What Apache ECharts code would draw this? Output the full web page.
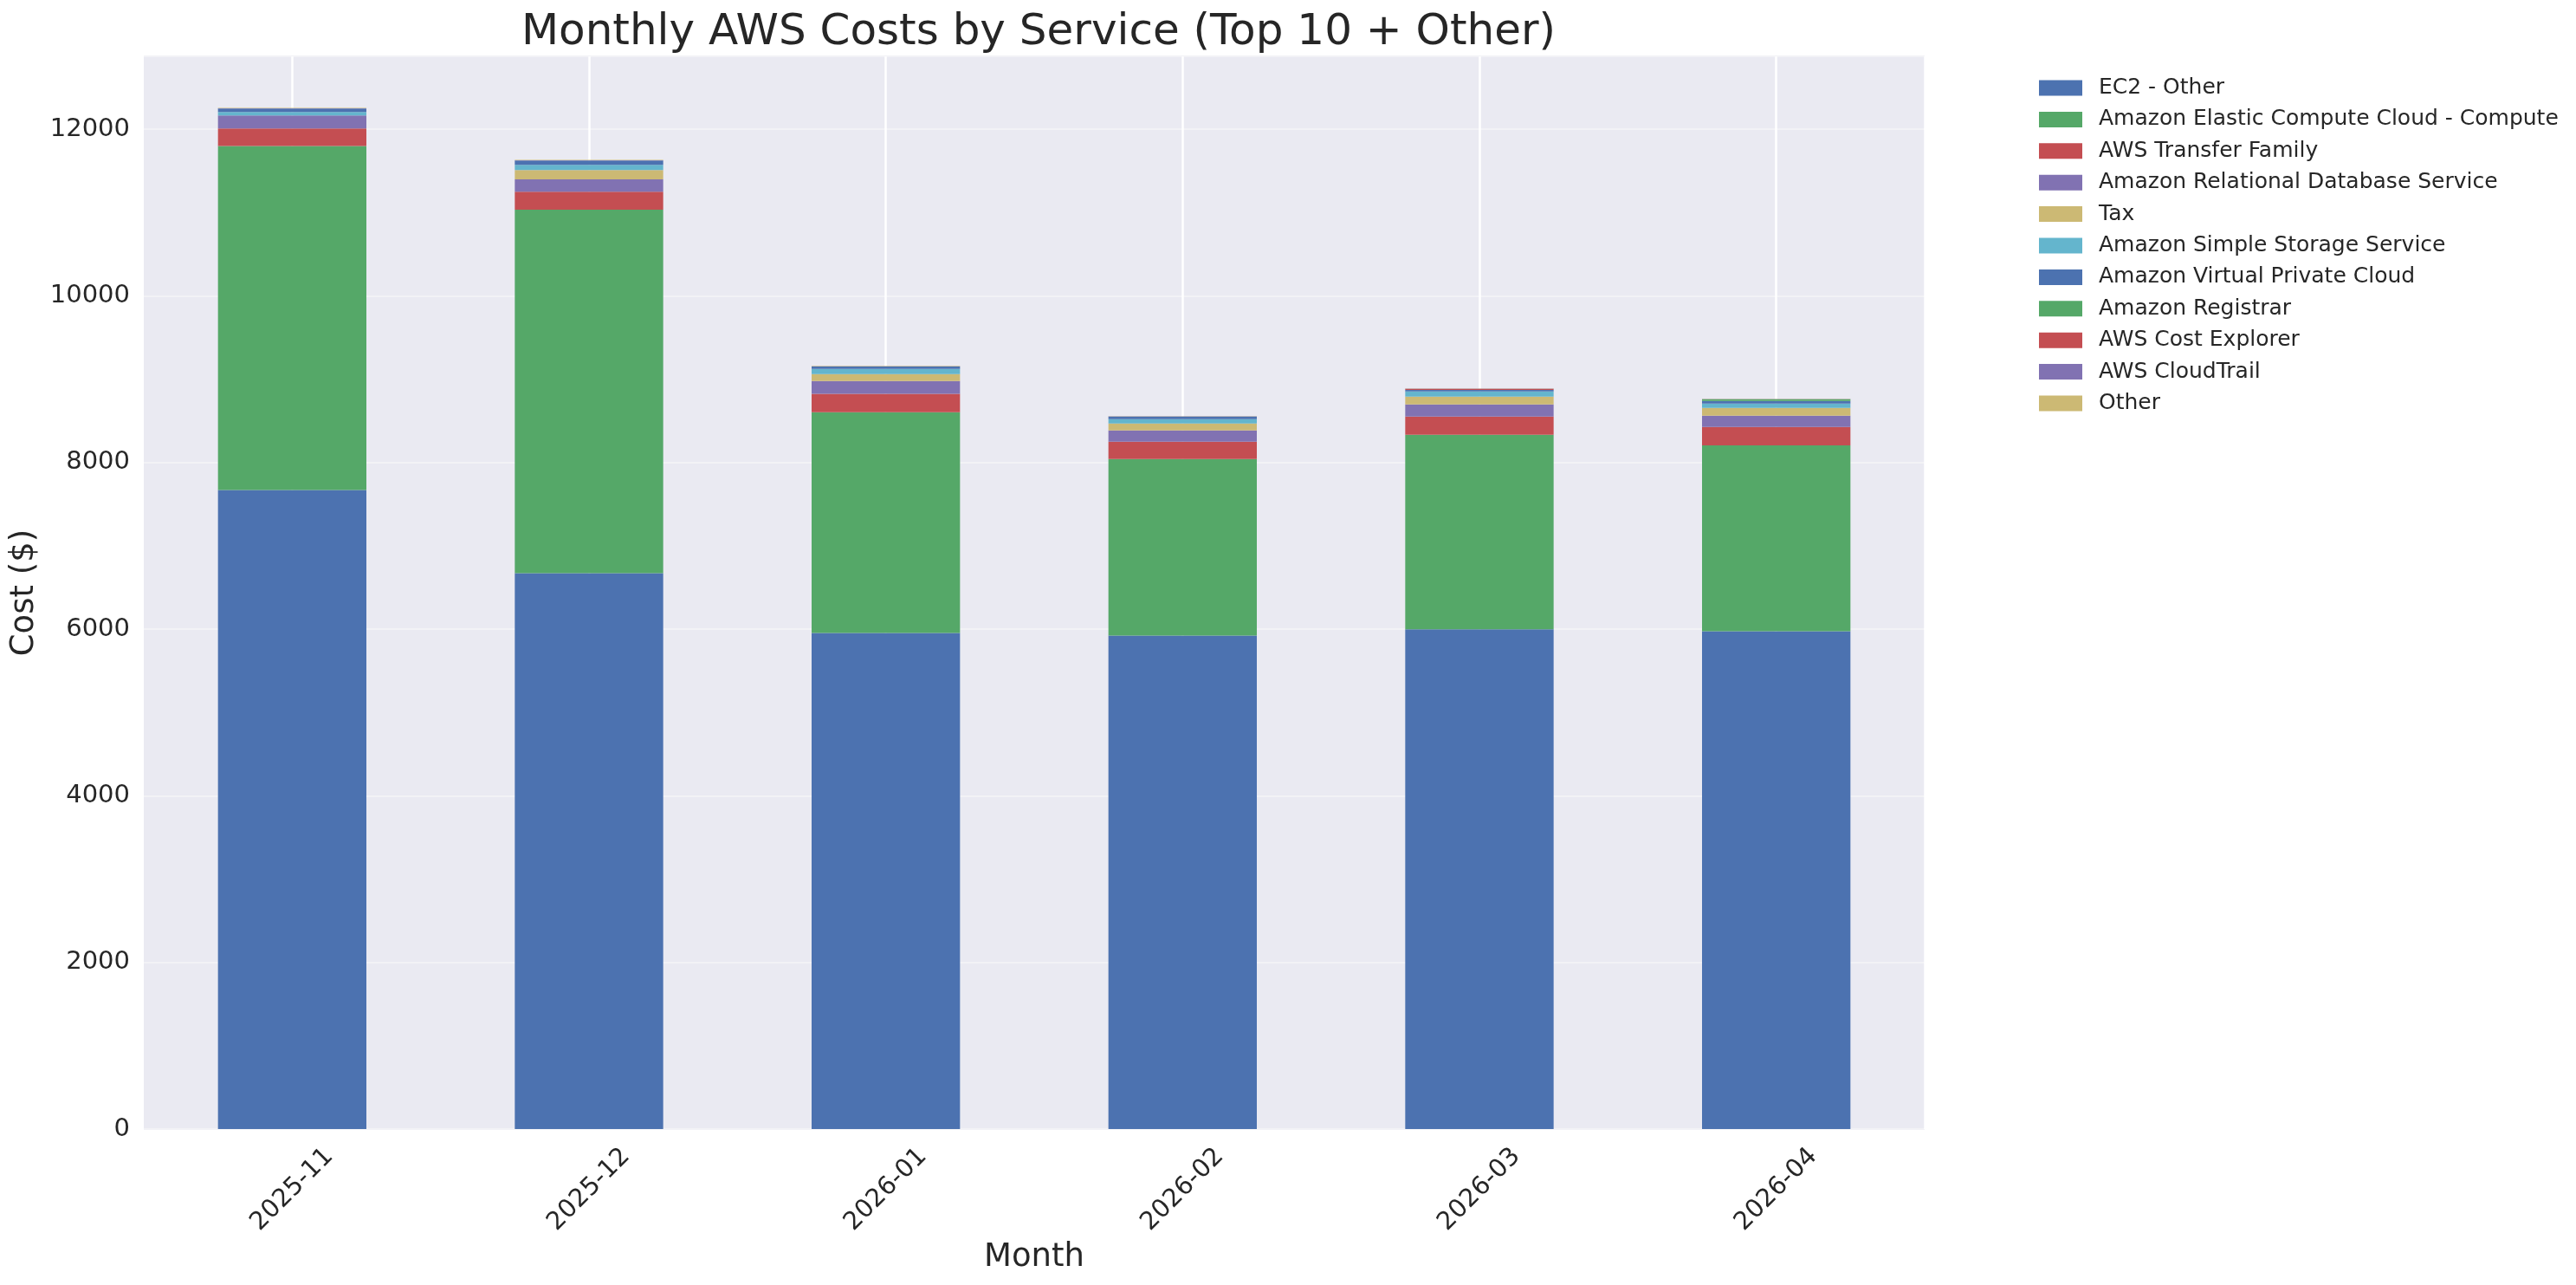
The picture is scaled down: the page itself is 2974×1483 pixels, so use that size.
<!DOCTYPE html>
<html>
<head>
<meta charset="utf-8">
<title>Monthly AWS Costs by Service</title>
<script src="https://cdn.jsdelivr.net/npm/echarts@6/dist/echarts.min.js"></script>
<style>
  html, body { margin: 0; padding: 0; background: #ffffff; }
  #chart { width: 2974px; height: 1483px; }
</style>
</head>
<body>
<div id="chart"></div>
<script>
// months on the x axis
const months = ['2025-11', '2025-12', '2026-01', '2026-02', '2026-03', '2026-04'];

// cost per service ($)
const ec2Other       = [7669, 6672, 5955, 5924, 5997, 5976];
const ec2Compute     = [4130, 4361, 2648, 2118, 2336, 2230];
const transferFamily = [210, 218, 222, 208, 218, 221];
const rds            = [156, 146, 152, 135, 146, 135];
const tax            = [0, 114, 83, 83, 93, 93];
const s3             = [42, 62, 62, 52, 63, 52];
const vpc            = [41, 52, 31, 31, 17, 31];
const registrar      = [0, 0, 0, 0, 0, 21];
const costExplorer   = [0, 0, 0, 0, 14, 0];
const cloudTrail     = [3, 2, 2, 2, 2, 2];
const other          = [4, 5, 4, 4, 4, 4];

const yTicks = [0, 2000, 4000, 6000, 8000, 10000, 12000];

const services = [
    { name: 'EC2 - Other', data: ec2Other, color: '#4C72B0' },
    { name: 'Amazon Elastic Compute Cloud - Compute', data: ec2Compute, color: '#55A868' },
    { name: 'AWS Transfer Family', data: transferFamily, color: '#C44E52' },
    { name: 'Amazon Relational Database Service', data: rds, color: '#8172B2' },
    { name: 'Tax', data: tax, color: '#CCB974' },
    { name: 'Amazon Simple Storage Service', data: s3, color: '#64B5CD' },
    { name: 'Amazon Virtual Private Cloud', data: vpc, color: '#4C72B0' },
    { name: 'Amazon Registrar', data: registrar, color: '#55A868' },
    { name: 'AWS Cost Explorer', data: costExplorer, color: '#C44E52' },
    { name: 'AWS CloudTrail', data: cloudTrail, color: '#8172B2' },
    { name: 'Other', data: other, color: '#CCB974' }
];

const font = 'DejaVu Sans';
const textColor = '#262626';

const chart = echarts.init(document.getElementById('chart'), null, {
    width: 2974,
    height: 1483
});

// hidden axis with half-width bands, used only to put white lines at bar centres
const halfBands = months.flatMap(m => [m + 'a', m + 'b']);

const option = {
    animation: false,
    backgroundColor: '#ffffff',
    title: {
        text: 'Monthly AWS Costs by Service (Top 10 + Other)',
        left: 1194,
        top: 8,
        textAlign: 'center',
        textStyle: {
            fontFamily: font,
            fontWeight: 'normal',
            fontSize: 50,
            color: textColor
        }
    },
    legend: {
        orient: 'vertical',
        left: 2349,
        top: 84,
        icon: 'rect',
        itemWidth: 50,
        itemHeight: 18,
        itemGap: 11.4,
        data: services.map(s => s.name),
        textStyle: {
            fontFamily: font,
            fontSize: 25,
            color: textColor,
            padding: [0, 0, 0, 14]
        }
    },
    grid: {
        left: 166,
        right: 752,
        top: 65,
        bottom: 180,
        show: true,
        backgroundColor: '#EAEAF2',
        borderWidth: 0
    },
    xAxis: [{
        type: 'category',
        data: months,
        name: 'Month',
        nameLocation: 'middle',
        nameGap: 128,
        nameTextStyle: { fontFamily: font, fontSize: 37, color: textColor },
        axisLine: { show: false },
        axisTick: { show: false },
        splitLine: { show: false },
        axisLabel: {
            rotate: 45,
            align: 'center',
            verticalAlign: 'middle',
            margin: 70,
            fontFamily: font,
            fontSize: 29,
            color: textColor
        }
    }, {
        type: 'category',
        data: halfBands,
        position: 'bottom',
        show: true,
        axisLine: { show: false },
        axisTick: { show: false },
        axisLabel: { show: false },
        splitLine: {
            show: true,
            interval: (idx) => idx % 2 === 1,
            lineStyle: { color: '#ffffff', width: 2.5 }
        }
    }],
    yAxis: {
        type: 'value',
        min: 0,
        max: 12875,
        interval: 2000,
        name: 'Cost ($)',
        nameLocation: 'middle',
        nameGap: 105,
        nameTextStyle: { fontFamily: font, fontSize: 37, color: textColor },
        axisLine: { show: false },
        axisTick: { show: false },
        axisLabel: {
            margin: 16,
            fontFamily: font,
            fontSize: 29,
            color: textColor,
            showMaxLabel: false,
            formatter: (v) => (yTicks.indexOf(v) >= 0 ? String(v) : '')
        },
        splitLine: {
            show: true,
            lineStyle: { color: '#F2F2F6', width: 2 }
        }
    },
    series: services.map(s => ({
        name: s.name,
        type: 'bar',
        stack: 'total',
        xAxisIndex: 0,
        barWidth: '50%',
        data: s.data,
        itemStyle: { color: s.color },
        emphasis: { disabled: true }
    }))
};

try {
    chart.setOption(option);
} catch (error) {
    console.error('Error setting chart option:', error);
}
</script>
</body>
</html>
